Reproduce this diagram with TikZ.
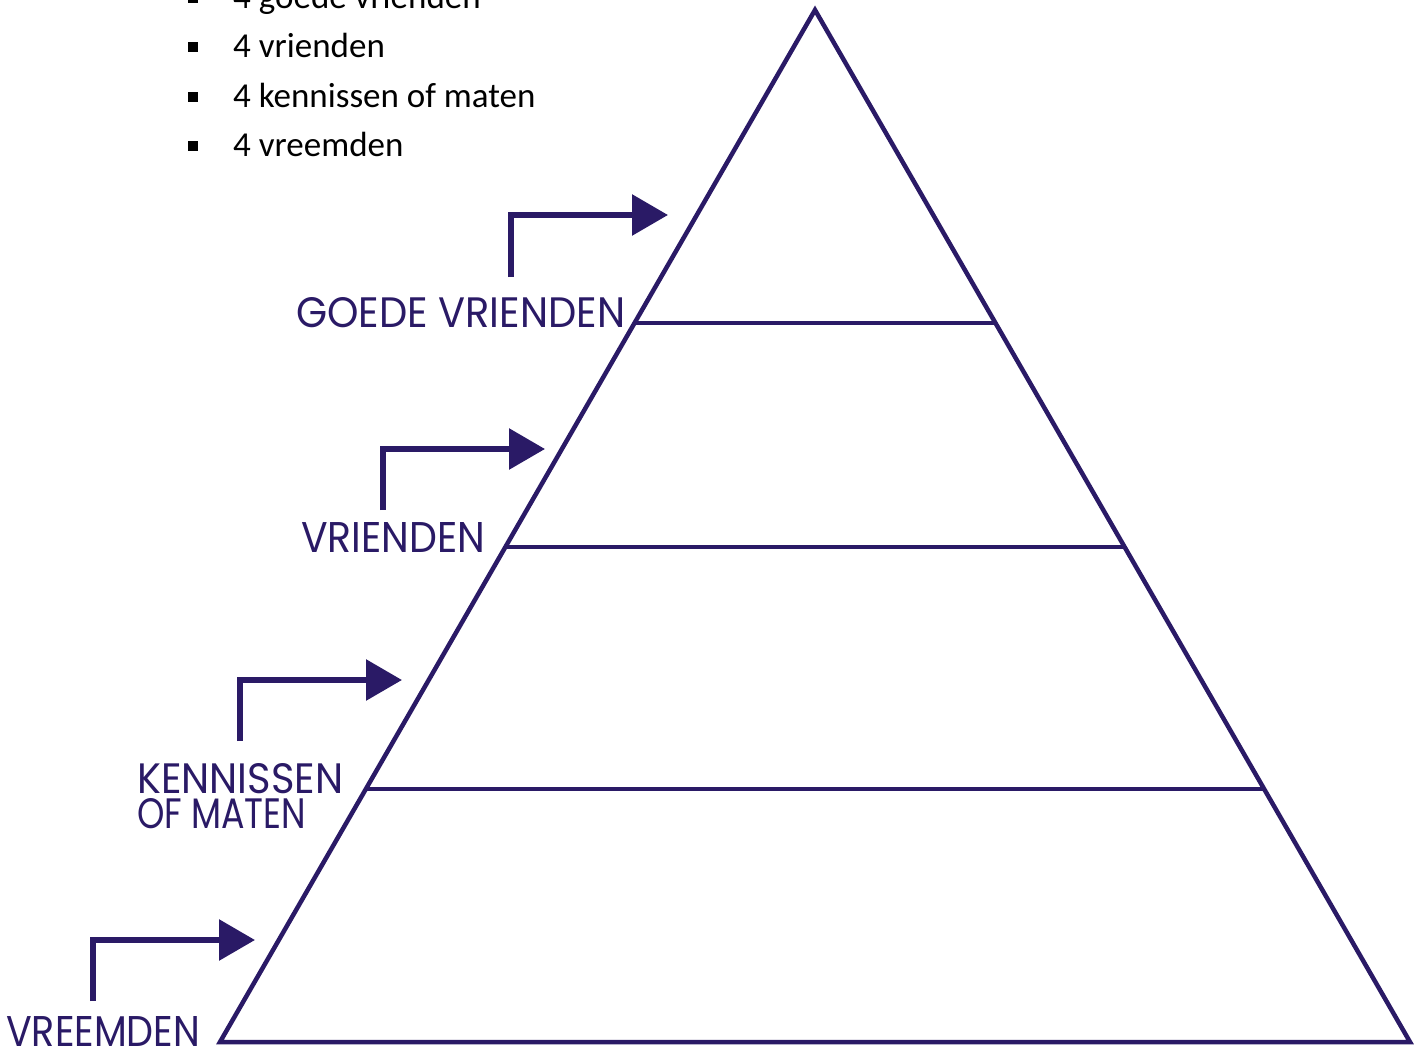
\documentclass[tikz,border=0pt]{standalone}
\usepackage{fontspec}
\usepackage{graphicx}
\setmainfont{Carlito}
\newfontfamily\labelfont{Poppins}
\usetikzlibrary{arrows.meta}
\definecolor{ink}{RGB}{42,26,102}
% level name squeezed to a given width with a fixed cap height
\newcommand\lvltext[2]{\resizebox{#1}{30pt}{\labelfont #2}}
\begin{document}
\begin{tikzpicture}[x=1pt,y=-1pt,
  pyr/.style={draw=ink,line width=4.5pt,line join=miter},
  level/.style={draw=ink,line width=4.5pt},
  pointer/.style={draw=ink,line width=6pt,-{Triangle[length=36pt,width=40pt]}},
  lvlname/.style={anchor=base west,inner sep=0pt,text=ink},
  item/.style={anchor=base west,inner sep=0pt,font=\fontsize{35}{35}\selectfont},
  bulletsq/.style={fill=black,minimum size=10.5pt,inner sep=0pt,draw=none}]
\useasboundingbox (0,0) rectangle (1414,1046);
\clip (0,0) rectangle (1414,1046);
\fill[white] (0,0) rectangle (1414,1046);

% bullet list
\foreach \t/\y [count=\i] in {4 goede vrienden/9, 4 vrienden/58, 4 kennissen of maten/108, 4 vreemden/157}{
  \node[bulletsq] (b\i) at (193,\y-11) {};
  \node[item] (t\i) at (233,\y) {\t};
}

% pyramid outline and level lines
\coordinate (apex) at (815,10);
\coordinate (bl) at (220,1042);
\coordinate (br) at (1410,1042);
\draw[pyr] (bl) -- (apex) -- (br) -- cycle;
\coordinate (l1a) at (634,323);  \coordinate (l1b) at (995,323);
\coordinate (l2a) at (505,547);  \coordinate (l2b) at (1124,547);
\coordinate (l3a) at (366,789);  \coordinate (l3b) at (1264,789);
\draw[level] (l1a) -- (l1b);
\draw[level] (l2a) -- (l2b);
\draw[level] (l3a) -- (l3b);

% level names
\node[lvlname] (n1) at (296,327) {\lvltext{329pt}{GOEDE VRIENDEN}};
\node[lvlname] (n2) at (301,552) {\lvltext{184pt}{VRIENDEN}};
\node[lvlname] (n3) at (137,793) {\lvltext{206pt}{KENNISSEN}};
\node[lvlname] (n3b) at (137,828) {\lvltext{169pt}{OF MATEN}};
\node[lvlname] (n4) at (6,1046) {\lvltext{194pt}{VREEMDEN}};

% pointers
\coordinate (p1s) at (511,277); \coordinate (p1e) at (668,215);
\coordinate (p2s) at (383,510); \coordinate (p2e) at (545,449);
\coordinate (p3s) at (240,741); \coordinate (p3e) at (402,680);
\coordinate (p4s) at (93,1001); \coordinate (p4e) at (255,940);
\draw[pointer] (p1s) |- (p1e);
\draw[pointer] (p2s) |- (p2e);
\draw[pointer] (p3s) |- (p3e);
\draw[pointer] (p4s) |- (p4e);
\end{tikzpicture}
\end{document}
